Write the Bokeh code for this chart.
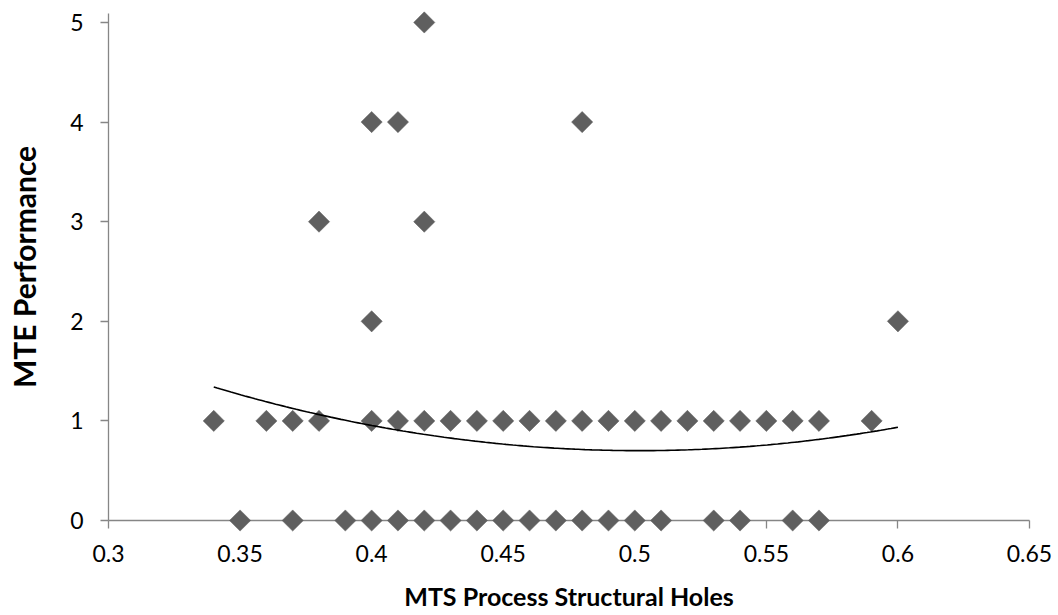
import numpy as np
from bokeh.plotting import figure
from bokeh.models import Range1d, FixedTicker, ColumnDataSource
from bokeh.embed import file_html
from bokeh.resources import INLINE

# Data
x_row1 = [0.34, 0.36, 0.37, 0.38, 0.40, 0.41, 0.42, 0.43, 0.44, 0.45, 0.46, 0.47,
          0.48, 0.49, 0.50, 0.51, 0.52, 0.53, 0.54, 0.55, 0.56, 0.57, 0.59]
y_row1 = [1] * len(x_row1)
x_row0 = [0.35, 0.37, 0.39, 0.40, 0.41, 0.42, 0.43, 0.44, 0.45, 0.46, 0.47, 0.48,
          0.49, 0.50, 0.51, 0.53, 0.54, 0.56, 0.57]
y_row0 = [0] * len(x_row0)
x_high = [0.42, 0.40, 0.41, 0.48, 0.38, 0.42, 0.40, 0.60]
y_high = [5, 4, 4, 4, 3, 3, 2, 2]

x_all = x_row1 + x_row0 + x_high
y_all = y_row1 + y_row0 + y_high

# Polynomial trendline, values
trend_x = [0.34, 0.38, 0.40, 0.45, 0.50, 0.55, 0.60]
trend_y = [1.34, 1.07, 0.95, 0.76, 0.70, 0.77, 0.93]

x_ticks = [0.3, 0.35, 0.4, 0.45, 0.5, 0.55, 0.6, 0.65]
x_tick_labels = ["0.3", "0.35", "0.4", "0.45", "0.5", "0.55", "0.6", "0.65"]
y_ticks = [0, 1, 2, 3, 4, 5]

coef = np.polyfit(trend_x, trend_y, 2)
tx = np.linspace(trend_x[0], trend_x[-1], 200)
ty = np.polyval(coef, tx)

p = figure(frame_width=921, frame_height=507,
           x_range=Range1d(0.3, 0.65), y_range=Range1d(0, 5.09),
           output_backend="svg", toolbar_location=None,
           min_border_left=108, min_border_right=29,
           min_border_top=13, min_border_bottom=95)
p.outline_line_color = None
p.grid.grid_line_color = None
p.background_fill_color = "white"
p.border_fill_color = "white"

src = ColumnDataSource(dict(x=x_all, y=y_all))
p.scatter("x", "y", source=src, marker="square", angle=np.pi / 4, size=15,
          fill_color="#5f5f5f", line_color="#5f5f5f", line_width=0.5,
          level="overlay")
p.line(tx, ty, line_color="black", line_width=1.6, level="overlay")

fnt = "Lato"
xa = p.xaxis[0]
xa.ticker = FixedTicker(ticks=x_ticks)
xa.major_label_overrides = {t: l for t, l in zip(x_ticks, x_tick_labels)}
xa.axis_label = "MTS Process Structural Holes"
xa.axis_label_standoff = 16
xa.major_label_standoff = 16
xa.axis_label_text_font_size = "25px"

ya = p.yaxis[0]
ya.ticker = FixedTicker(ticks=y_ticks)
ya.axis_label = "MTE Performance"
ya.axis_label_standoff = 25
ya.major_label_standoff = 17
ya.axis_label_text_font_size = "30px"

for ax in (xa, ya):
    ax.axis_line_color = "#868686"
    ax.axis_line_width = 1.3
    ax.major_tick_line_color = "#868686"
    ax.major_tick_line_width = 1.3
    ax.major_tick_out = 8
    ax.major_tick_in = 0
    ax.minor_tick_out = 0
    ax.minor_tick_in = 0
    ax.major_label_text_font = fnt
    ax.major_label_text_font_size = "23px"
    ax.major_label_text_color = "black"
    ax.axis_label_text_font = fnt
    ax.axis_label_text_font_style = "bold"
    ax.axis_label_text_color = "black"

open("out.html", "w").write(file_html(p, INLINE))
